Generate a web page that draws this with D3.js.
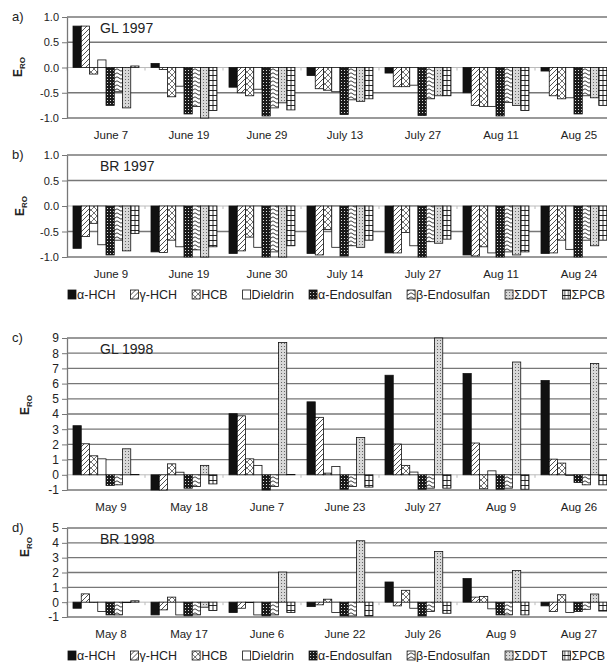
<!DOCTYPE html>
<html>
<head>
<meta charset="utf-8">
<script src="https://cdn.jsdelivr.net/npm/d3@7"></script>
<style>
body { margin: 0; background: #fff; }
text { font-family: "Liberation Sans", Arial, sans-serif; fill: #222; }
</style>
</head>
<body>
<svg id="chart"></svg>
<script>
// series (legend order)
var series = ["α-HCH", "γ-HCH", "HCB", "Dieldrin", "α-Endosulfan", "β-Endosulfan", "ΣDDT", "ΣPCB"];

// a) GL 1997
var datesGL97 = ["June 7", "June 19", "June 29", "July 13", "July 27", "Aug 11", "Aug 25"];
var valuesGL97 = [
	[0.82, 0.82, -0.13, 0.15, -0.75, -0.48, -0.80, 0.03],
	[0.08, -0.04, -0.58, -0.37, -0.92, -0.77, -1.00, -0.85],
	[-0.39, -0.50, -0.56, -0.43, -0.96, -0.80, -0.70, -0.84],
	[-0.16, -0.42, -0.45, -0.48, -0.93, -0.64, -0.67, -0.62],
	[-0.11, -0.38, -0.38, -0.35, -0.95, -0.62, -0.56, -0.56],
	[-0.50, -0.75, -0.77, -0.77, -0.96, -0.69, -0.75, -0.85],
	[-0.07, -0.56, -0.62, -0.60, -0.92, -0.56, -0.60, -0.75]
];

// b) BR 1997
var datesBR97 = ["June 9", "June 19", "June 30", "July 14", "July 27", "Aug 11", "Aug 24"];
var valuesBR97 = [
	[-0.83, -0.60, -0.34, -0.76, -0.96, -0.67, -0.88, -0.54],
	[-0.90, -0.91, -0.67, -0.80, -1.00, -0.86, -1.00, -0.80],
	[-0.93, -0.88, -0.61, -0.81, -1.00, -0.90, -1.00, -0.78],
	[-0.93, -0.96, -0.46, -0.81, -0.98, -0.78, -0.81, -0.67],
	[-0.92, -0.92, -0.52, -0.78, -1.00, -0.70, -0.73, -0.65],
	[-0.96, -0.98, -0.80, -0.92, -1.00, -0.90, -0.96, -0.90],
	[-0.93, -0.92, -0.67, -0.85, -1.00, -0.67, -0.78, -0.67]
];

// c) GL 1998
var datesGL98 = ["May 9", "May 18", "June 7", "June 23", "July 27", "Aug 9", "Aug 26"];
var valuesGL98 = [
	[3.23, 2.04, 1.25, 1.05, -0.70, -0.66, 1.71, 0.02],
	[-1.00, -1.00, 0.72, 0.17, -0.88, -0.77, 0.62, -0.60],
	[4.02, 3.88, 1.05, 0.62, -1.00, -0.77, 8.71, 0.02],
	[4.80, 3.78, 0.11, 0.55, -0.95, -0.77, 2.46, -0.81],
	[6.55, 2.02, 0.62, 0.18, -0.95, -0.88, 9.40, -0.88],
	[6.66, 2.09, -0.92, 0.26, -0.95, -0.88, 7.42, -0.95],
	[6.20, 1.03, 0.77, -0.05, -0.50, -0.66, 7.32, -0.66]
];

// d) BR 1998
var datesBR98 = ["May 8", "May 17", "June 6", "June 22", "July 26", "Aug 9", "Aug 27"];
var valuesBR98 = [
	[-0.41, 0.56, -0.02, -0.63, -0.86, -0.86, -0.03, 0.09],
	[-0.86, -0.52, 0.34, -0.86, -0.92, -0.86, -0.34, -0.56],
	[-0.70, -0.41, -0.03, -0.86, -0.92, -0.86, 2.03, -0.70],
	[-0.30, -0.18, 0.20, -0.70, -0.93, -0.93, 4.14, -0.93],
	[1.36, -0.25, 0.80, -0.41, -0.93, -0.63, 3.41, -0.75],
	[1.59, 0.34, 0.39, -0.45, -0.86, -0.86, 2.14, -0.86],
	[-0.25, -0.63, 0.50, -0.70, -0.63, -0.48, 0.55, -0.60]
];

var ticks97 = [-1, -0.5, 0, 0.5, 1];
var ticksGL98 = [-1, 0, 1, 2, 3, 4, 5, 6, 7, 8, 9];
var ticksBR98 = [-1, 0, 1, 2, 3, 4, 5];

var width = 607, height = 662;
var plotLeft = 67, plotRight = 613;

var svg = d3.select("#chart")
	.attr("width", width)
	.attr("height", height);

var defs = svg.append("defs");

// fill patterns, one per series
function addPattern(id, w, h, bg, draw) {
	var p = defs.append("pattern")
		.attr("id", id)
		.attr("patternUnits", "userSpaceOnUse")
		.attr("width", w)
		.attr("height", h);
	p.append("rect").attr("width", w).attr("height", h).attr("fill", bg);
	draw(p);
}
addPattern("p0", 4, 4, "#111", function () {});
addPattern("p1", 5, 5, "#fff", function (p) {
	p.append("path").attr("d", "M0,5L5,0M-1,1L1,-1M4,6L6,4")
		.attr("stroke", "#222").attr("stroke-width", 0.8);
});
addPattern("p2", 6, 6, "#fff", function (p) {
	p.append("path").attr("d", "M0,0L6,6M6,0L0,6")
		.attr("stroke", "#333").attr("stroke-width", 0.7);
});
addPattern("p3", 4, 4, "#fff", function () {});
addPattern("p4", 3, 3, "#1a1a1a", function (p) {
	p.append("rect").attr("x", 1).attr("y", 1).attr("width", 1).attr("height", 1).attr("fill", "#ddd");
});
addPattern("p5", 8, 4, "#fff", function (p) {
	p.append("path").attr("d", "M0,3.2L4,0.8L8,3.2")
		.attr("fill", "none").attr("stroke", "#222").attr("stroke-width", 0.9);
});
addPattern("p6", 3, 3, "#d8d8d8", function (p) {
	p.append("rect").attr("x", 1).attr("y", 1).attr("width", 1).attr("height", 1).attr("fill", "#666");
});
addPattern("p7", 4, 5, "#fff", function (p) {
	p.append("path").attr("d", "M0,0.5H4M2,0V5")
		.attr("stroke", "#111").attr("stroke-width", 0.9);
});

var panels = [
	{label: "a)", title: "GL 1997", dates: datesGL97, values: valuesGL97, ticks: ticks97,
		top: 17, bottom: 118, fmt: function (d) { return d.toFixed(1); }, eX: 22, eY: 67, fs: 11, legend: null},
	{label: "b)", title: "BR 1997", dates: datesBR97, values: valuesBR97, ticks: ticks97,
		top: 155, bottom: 257, fmt: function (d) { return d.toFixed(1); }, eX: 24, eY: 206, fs: 11, legend: 295},
	{label: "c)", title: "GL 1998", dates: datesGL98, values: valuesGL98, ticks: ticksGL98,
		top: 338, bottom: 490, fmt: function (d) { return d; }, eX: 29, eY: 405, fs: 12, legend: null},
	{label: "d)", title: "BR 1998", dates: datesBR98, values: valuesBR98, ticks: ticksBR98,
		top: 528, bottom: 617, fmt: function (d) { return d; }, eX: 29, eY: 547, fs: 12, legend: 656}
];

panels.forEach(function (panel) {
	var g = svg.append("g");

	var x0 = d3.scaleBand()
		.domain(panel.dates)
		.range([plotLeft, plotRight])
		.paddingInner(0.154)
		.paddingOuter(0.077);
	var x1 = d3.scaleBand()
		.domain(series)
		.range([0, x0.bandwidth()]);
	var y = d3.scaleLinear()
		.domain(d3.extent(panel.ticks))
		.range([panel.bottom, panel.top])
		.clamp(true);

	// gridlines
	g.selectAll("line.grid")
		.data(panel.ticks)
		.enter().append("line")
		.attr("class", "grid")
		.attr("x1", plotLeft)
		.attr("x2", plotRight)
		.attr("y1", function (d) { return y(d); })
		.attr("y2", function (d) { return y(d); })
		.attr("stroke", function (d) { return d === 0 ? "#bbb" : "#777"; })
		.attr("stroke-width", function (d) { return d === 0 ? 1 : 1.3; });

	// small category ticks on the zero line
	var step = x0.step();
	g.selectAll("line.ctick")
		.data(d3.range(panel.dates.length + 1))
		.enter().append("line")
		.attr("x1", function (i) { return plotLeft + i * step; })
		.attr("x2", function (i) { return plotLeft + i * step; })
		.attr("y1", y(0))
		.attr("y2", y(0) + 3)
		.attr("stroke", "#bbb");

	// bars
	var groups = g.selectAll("g.grp")
		.data(panel.values)
		.enter().append("g")
		.attr("transform", function (d, i) { return "translate(" + x0(panel.dates[i]) + ",0)"; });

	groups.selectAll("rect")
		.data(function (d) { return d; })
		.enter().append("rect")
		.attr("x", function (d, j) { return x1(series[j]); })
		.attr("width", x1.bandwidth())
		.attr("y", function (d) { return Math.min(y(d), y(0)); })
		.attr("height", function (d) { return Math.abs(y(d) - y(0)); })
		.attr("fill", function (d, j) { return "url(#p" + j + ")"; })
		.attr("stroke", "#111")
		.attr("stroke-width", 0.8);

	// y axis
	var axis = g.append("g")
		.attr("transform", "translate(" + plotLeft + ",0)")
		.call(d3.axisLeft(y).tickValues(panel.ticks).tickFormat(panel.fmt).tickSize(5).tickSizeOuter(0).tickPadding(3));
	axis.select(".domain").attr("stroke", "#777").attr("stroke-width", 1.3);
	axis.selectAll(".tick line").attr("stroke", "#777");
	axis.selectAll("text")
		.attr("font-size", panel.fs)
		.attr("font-family", "Liberation Sans, Arial, sans-serif")
		.attr("fill", "#222");

	// date labels
	g.selectAll("text.date")
		.data(panel.dates)
		.enter().append("text")
		.attr("x", function (d) { return x0(d) + x0.bandwidth() / 2 + 5; })
		.attr("y", panel.bottom + 21)
		.attr("text-anchor", "middle")
		.attr("font-size", 11.5)
		.text(function (d) { return d; });

	// panel letter + title
	g.append("text")
		.attr("x", 12)
		.attr("y", panel.top + 4)
		.attr("font-size", 13)
		.text(panel.label);
	g.append("text")
		.attr("x", 100)
		.attr("y", panel.top + 16)
		.attr("font-size", 14)
		.text(panel.title);

	// E_RO
	var e = g.append("text")
		.attr("transform", "translate(" + panel.eX + "," + panel.eY + ") rotate(-90)")
		.attr("text-anchor", "middle")
		.attr("font-size", 12)
		.attr("font-weight", "bold");
	e.append("tspan").text("E");
	e.append("tspan").attr("font-size", 8).attr("dy", 3).text("RO");

	if (panel.legend) drawLegend(panel.legend);
});

function drawLegend(cy) {
	var lg = svg.append("g");
	var items = lg.selectAll("g")
		.data(series)
		.enter().append("g");
	items.append("rect")
		.attr("width", 8)
		.attr("height", 9)
		.attr("y", cy - 5)
		.attr("fill", function (d, j) { return "url(#p" + j + ")"; })
		.attr("stroke", "#111")
		.attr("stroke-width", 0.8);
	items.append("text")
		.attr("x", 9)
		.attr("y", cy + 4)
		.attr("font-size", 12.5)
		.text(function (d) { return d; });

	// spread the items from x=68 to x=605
	var widths = [];
	items.each(function () { widths.push(9 + d3.select(this).select("text").node().getComputedTextLength()); });
	var gap = (605 - 68 - d3.sum(widths)) / (series.length - 1);
	var xPos = 68;
	items.attr("transform", function (d, j) {
		var t = "translate(" + xPos + ",0)";
		xPos += widths[j] + gap;
		return t;
	});
}
</script>
</body>
</html>
